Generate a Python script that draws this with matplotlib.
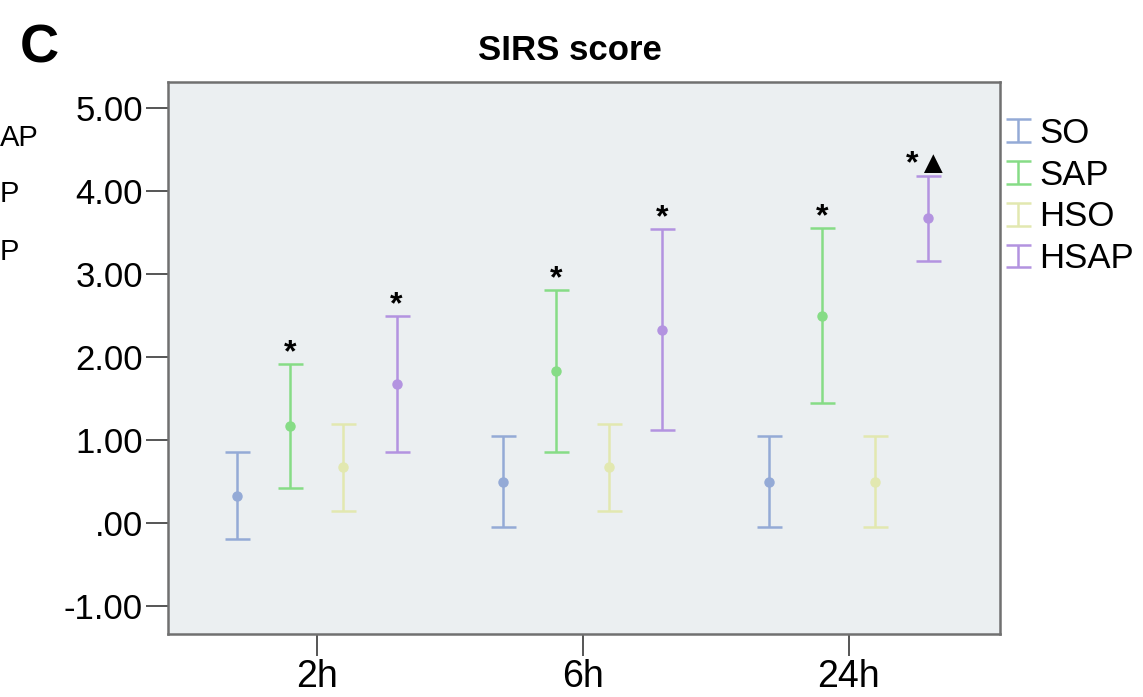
import matplotlib
matplotlib.use("Agg")
import matplotlib.pyplot as plt
from matplotlib.container import ErrorbarContainer
from matplotlib.legend_handler import HandlerErrorbar
import numpy as np

plt.rcParams['font.family'] = ['Liberation Sans', 'DejaVu Sans']

# ---- data ----
timepoints = ["2h", "6h", "24h"]
groups = ["SO", "SAP", "HSO", "HSAP"]
means = {
    "SO":   [0.33, 0.50, 0.50],
    "SAP":  [1.17, 1.83, 2.50],
    "HSO":  [0.67, 0.67, 0.50],
    "HSAP": [1.67, 2.33, 3.67],
}
errs = {
    "SO":   [0.52, 0.55, 0.55],
    "SAP":  [0.75, 0.98, 1.05],
    "HSO":  [0.52, 0.52, 0.55],
    "HSAP": [0.82, 1.21, 0.51],
}
marks = {
    "SO":   ["", "", ""],
    "SAP":  ["*", "*", "*"],
    "HSO":  ["", "", ""],
    "HSAP": ["*", "*", "*▲"],
}
yticks = [-1, 0, 1, 2, 3, 4, 5]
yticklabels = ["-1.00", ".00", "1.00", "2.00", "3.00", "4.00", "5.00"]
title = "SIRS score"
panel = "C"
cut_labels = ["AP", "P", "P"]   # fragments of the neighbouring panel's legend

colors = {"SO": "#94aad6", "SAP": "#86dc86", "HSO": "#e2e8b0", "HSAP": "#b393e0"}
offsets = {"SO": -0.3, "SAP": -0.1, "HSO": 0.1, "HSAP": 0.3}

fig = plt.figure(figsize=(11.43, 6.97), dpi=100)
ax = fig.add_axes([0.147, 0.090, 0.728, 0.792])
ax.set_facecolor("#ebeff1")

x = np.arange(1, len(timepoints) + 1)
handles = []
for g in groups:
    xs = x + offsets[g]
    c = ax.errorbar(xs, means[g], yerr=errs[g], fmt='none', ecolor=colors[g],
                    elinewidth=1.8, capsize=9, capthick=1.8, label=g)
    handles.append(c)
    ax.plot(xs, means[g], 'o', color=colors[g], markersize=6.5,
            markeredgecolor=colors[g], markerfacecolor=colors[g])
    for xi, m, e, s in zip(xs, means[g], errs[g], marks[g]):
        if s:
            ax.annotate(s, (xi, m + e), xytext=(0, -3), textcoords='offset points',
                        ha='center', va='bottom', fontsize=23, fontweight='bold',
                        color='black')

ax.set_xlim(0.44, 3.57)
ax.set_ylim(-1.34, 5.31)
ax.set_xticks(x)
ax.set_xticklabels(timepoints)
ax.set_yticks(yticks)
ax.set_yticklabels(yticklabels)
ax.tick_params(axis='both', direction='out', length=16, width=1.4,
               color='#555555', pad=2)
ax.tick_params(axis='y', labelsize=25)
ax.tick_params(axis='x', labelsize=27)
for sp in ax.spines.values():
    sp.set_color('#707070')
    sp.set_linewidth(1.8)

fig.text(570 / 1143, 0.914, title, ha='center', va='baseline', fontsize=25,
         fontweight='bold')
fig.text(0.017, 0.911, panel, ha='left', va='baseline', fontsize=39,
         fontweight='bold')

for yy, lab in zip([138, 194, 252], cut_labels):
    fig.text(0.0, 1 - yy / 697, lab, ha='left', va='center', fontsize=21)

leg = fig.legend(handles=handles, labels=groups, loc='upper left',
                 bbox_to_anchor=(1008 / 1143, 0.832), frameon=False, fontsize=25,
                 handlelength=0.55, handletextpad=0.35, labelspacing=0.25,
                 borderaxespad=0, borderpad=0,
                 handler_map={ErrorbarContainer: HandlerErrorbar(yerr_size=0.33)})

fig.savefig("out.png", dpi=100)
